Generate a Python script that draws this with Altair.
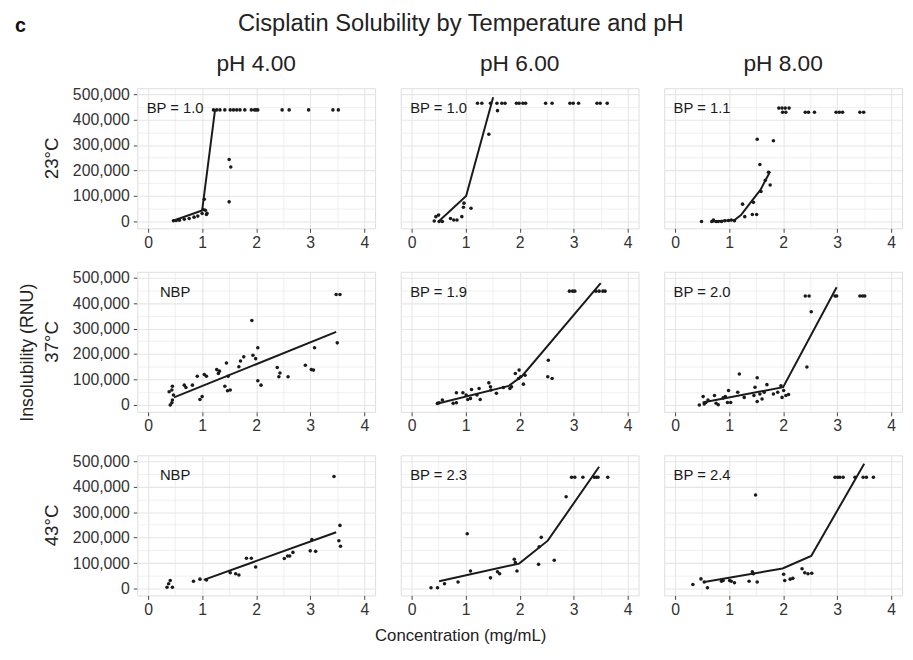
import altair as alt
import pandas as pd

FONT = "Liberation Sans"

temps = ["23°C", "37°C", "43°C"]
phs = ["pH 4.00", "pH 6.00", "pH 8.00"]
bp_labels = [["BP = 1.0", "BP = 1.0", "BP = 1.1"],
             ["NBP", "BP = 1.9", "BP = 2.0"],
             ["NBP", "BP = 2.3", "BP = 2.4"]]

# ---- 23°C ----
pts_23_4_x = [0.47, 0.52, 0.58, 0.67, 0.76, 0.85, 0.92, 1.0, 1.02, 1.04, 1.06, 1.08, 1.09,
              1.21, 1.27, 1.33, 1.42, 1.52, 1.58, 1.64, 1.70, 1.79, 1.91, 1.97, 2.0, 2.03,
              2.48, 2.61, 2.97, 3.42, 3.52, 1.5, 1.53, 1.5]
pts_23_4_y = [2500, 4000, 5000, 9000, 12000, 17000, 21000, 31000, 47000, 87000, 44000, 27000, 32000,
              438000, 438000, 438000, 438000, 438000, 438000, 438000, 438000, 438000, 438000, 438000,
              438000, 438000, 438000, 438000, 438000, 438000, 438000, 243000, 214000, 77000]
fit_23_4_x = [0.45, 1.0, 1.24]
fit_23_4_y = [2000, 43000, 440000]

pts_23_6_x = [0.42, 0.45, 0.50, 0.51, 0.57, 0.72, 0.78, 0.84, 0.93, 0.96, 0.97, 1.10, 1.43, 1.59,
              1.22, 1.30, 1.46, 1.58, 1.67, 1.73, 1.94, 1.99, 2.06, 2.11, 2.48, 2.60, 2.93, 2.99,
              3.09, 3.43, 3.49, 3.62]
pts_23_6_y = [2000, 19000, 25000, 0, 0, 12000, 6000, 6000, 19000, 56000, 72000, 52000, 342000, 435000,
              464000, 464000, 464000, 464000, 464000, 464000, 464000, 464000, 464000, 464000, 464000,
              464000, 464000, 464000, 464000, 464000, 464000, 464000]
fit_23_6_x = [0.5, 1.01, 1.51]
fit_23_6_y = [0, 100000, 488000]

pts_23_8_x = [0.49, 0.68, 0.71, 0.76, 0.80, 0.86, 0.92, 0.99, 1.04, 1.10, 1.25, 1.29, 1.43, 1.45,
              1.51, 1.52, 1.57, 1.59, 1.67, 1.73, 1.76, 1.82, 1.92, 1.98, 2.04, 2.11, 1.99, 2.05,
              2.41, 2.47, 2.58, 2.98, 3.04, 3.10, 3.42, 3.49]
pts_23_8_y = [0, 0, 6000, 0, 0, 0, 3000, 4000, 6000, 3000, 68000, 19000, 27000, 75000,
              27000, 323000, 224000, 118000, 162000, 193000, 143000, 317000, 445000, 445000, 445000,
              445000, 429000, 429000, 429000, 429000, 429000, 429000, 429000, 429000, 429000, 429000]
fit_23_8_x = [0.68, 1.10, 1.22, 1.40, 1.58, 1.76]
fit_23_8_y = [0, 6000, 25000, 75000, 124000, 196000]

# ---- 37°C ----
pts_37_4_x = [0.41, 0.44, 0.45, 0.39, 0.44, 0.45, 0.47, 0.67, 0.70, 0.82, 0.91, 0.96, 1.0, 1.04,
              1.08, 1.27, 1.30, 1.32, 1.42, 1.45, 1.47, 1.52, 1.48, 1.68, 1.71, 1.77, 1.92, 1.94,
              1.99, 2.03, 2.03, 2.09, 2.39, 2.44, 2.42, 2.59, 2.91, 3.02, 3.06, 3.08, 3.50, 3.48, 3.55]
pts_37_4_y = [0, 9000, 20000, 52000, 59000, 74000, 39000, 78000, 69000, 78000, 113000, 22000, 33000,
              120000, 113000, 139000, 124000, 133000, 74000, 165000, 56000, 59000, 113000, 150000,
              173000, 189000, 332000, 195000, 182000, 225000, 95000, 78000, 147000, 126000, 111000,
              111000, 156000, 139000, 137000, 225000, 244000, 434000, 434000]
fit_37_4_x = [0.48, 3.48]
fit_37_4_y = [30000, 287000]

pts_37_6_x = [0.48, 0.51, 0.57, 0.77, 0.83, 0.83, 0.95, 1.01, 1.04, 1.09, 1.11, 1.21, 1.27, 1.25,
              1.43, 1.46, 1.47, 1.57, 1.70, 1.82, 1.85, 1.92, 1.99, 1.98, 2.02, 2.07, 2.10, 2.53,
              2.52, 2.60, 2.92, 2.98, 3.02, 3.41, 3.47, 3.54, 3.58]
pts_37_6_y = [6500, 9000, 20000, 6500, 9000, 48000, 48000, 39000, 22000, 26000, 61000, 39000, 22000,
              65000, 87000, 72000, 59000, 46000, 69000, 65000, 72000, 124000, 137000, 104000, 111000,
              82000, 117000, 176000, 111000, 104000, 447000, 447000, 447000, 447000, 447000, 447000,
              447000]
fit_37_6_x = [0.45, 1.8, 2.05, 3.5]
fit_37_6_y = [4000, 75000, 115000, 478000]

pts_37_8_x = [0.45, 0.52, 0.54, 0.57, 0.61, 0.73, 0.76, 0.80, 0.89, 0.93, 0.97, 0.99, 1.03, 1.16,
              1.19, 1.28, 1.46, 1.48, 1.52, 1.52, 1.57, 1.61, 1.65, 1.70, 1.82, 1.90, 1.96, 1.98,
              2.01, 2.05, 2.10, 2.44, 2.52, 2.41, 2.48, 2.96, 2.99, 3.42, 3.47, 3.51]
pts_37_8_y = [0, 33000, 4000, 10000, 20000, 37000, 7000, 1000, 28000, 33000, 10000, 57000, 10000,
              50000, 122000, 30000, 37000, 70000, 107000, 14000, 43000, 24000, 50000, 80000, 43000,
              50000, 76000, 30000, 57000, 37000, 41000, 149000, 366000, 428000, 428000, 428000,
              428000, 428000, 428000, 428000]
fit_37_8_x = [0.51, 2.0, 2.99]
fit_37_8_y = [10000, 70000, 462000]

# ---- 43°C ----
pts_43_4_x = [0.35, 0.38, 0.41, 0.45, 0.84, 0.96, 1.08, 1.52, 1.62, 1.68, 1.82, 1.91, 1.99, 2.52,
              2.58, 2.62, 2.68, 3.0, 3.03, 3.10, 3.44, 3.55, 3.53, 3.56]
pts_43_4_y = [5000, 19000, 32000, 5000, 29000, 37000, 34000, 62000, 58000, 53000, 119000, 119000,
              85000, 118000, 128000, 128000, 142000, 148000, 192000, 146000, 440000, 248000, 188000,
              166000]
fit_43_4_x = [1.03, 3.48]
fit_43_4_y = [34000, 221000]

pts_43_6_x = [0.36, 0.48, 0.61, 0.86, 1.03, 1.09, 1.46, 1.59, 1.63, 1.90, 1.92, 1.95, 2.35, 2.36,
              2.40, 2.64, 2.86, 2.96, 3.02, 3.17, 3.38, 3.42, 3.45, 3.63]
pts_43_6_y = [3000, 3000, 19000, 26000, 215000, 69000, 42000, 66000, 58000, 115000, 102000, 69000,
              95000, 164000, 201000, 111000, 360000, 437000, 437000, 437000, 437000, 437000, 437000,
              437000]
fit_43_6_x = [0.51, 1.99, 2.52, 3.47]
fit_43_6_y = [29000, 98000, 188000, 478000]

pts_43_8_x = [0.33, 0.48, 0.54, 0.60, 0.86, 0.89, 1.01, 1.04, 1.10, 1.37, 1.43, 1.45, 1.49, 1.52,
              2.01, 2.03, 2.13, 2.18, 2.35, 2.40, 2.46, 2.53, 2.96, 3.01, 3.05, 3.11, 3.33, 3.48,
              3.54, 3.67]
pts_43_8_y = [16000, 38000, 26000, 3000, 29000, 32000, 32000, 29000, 23000, 29000, 66000, 58000,
              367000, 26000, 56000, 32000, 37000, 40000, 78000, 62000, 58000, 60000, 437000, 437000,
              437000, 437000, 437000, 437000, 437000, 437000]
fit_43_8_x = [0.54, 1.99, 2.52, 3.5]
fit_43_8_y = [26000, 79000, 128000, 490000]

panels = {
    (0, 0): (pts_23_4_x, pts_23_4_y, fit_23_4_x, fit_23_4_y),
    (0, 1): (pts_23_6_x, pts_23_6_y, fit_23_6_x, fit_23_6_y),
    (0, 2): (pts_23_8_x, pts_23_8_y, fit_23_8_x, fit_23_8_y),
    (1, 0): (pts_37_4_x, pts_37_4_y, fit_37_4_x, fit_37_4_y),
    (1, 1): (pts_37_6_x, pts_37_6_y, fit_37_6_x, fit_37_6_y),
    (1, 2): (pts_37_8_x, pts_37_8_y, fit_37_8_x, fit_37_8_y),
    (2, 0): (pts_43_4_x, pts_43_4_y, fit_43_4_x, fit_43_4_y),
    (2, 1): (pts_43_6_x, pts_43_6_y, fit_43_6_x, fit_43_6_y),
    (2, 2): (pts_43_8_x, pts_43_8_y, fit_43_8_x, fit_43_8_y),
}

records = []
for (ri, ci), (px, py, fx, fy) in panels.items():
    t, p = temps[ri], phs[ci]
    for a, b in zip(px, py):
        records.append(dict(temp=t, ph=p, kind="pt", x=a, y=b, ord=0, label=""))
    for k, (a, b) in enumerate(zip(fx, fy)):
        records.append(dict(temp=t, ph=p, kind="line", x=a, y=b, ord=k, label=""))
    records.append(dict(temp=t, ph=p, kind="bp", x=0.5, y=445000, ord=0, label=bp_labels[ri][ci]))
df = pd.DataFrame(records)

minor_x = "datum.value % 1 !== 0"
minor_y = "datum.value % 100000 !== 0"

x_axis = alt.Axis(
    values=[0, 0.5, 1, 1.5, 2, 2.5, 3, 3.5, 4],
    labelExpr="datum.value % 1 === 0 ? format(datum.value, 'd') : ''",
    tickOpacity={"condition": {"test": minor_x, "value": 0}, "value": 1},
    gridWidth={"condition": {"test": minor_x, "value": 0.6}, "value": 1.1},
    gridColor="#E6E6E6", domain=False, tickColor="#444", tickSize=4,
    labelFont=FONT, labelFontSize=16, labelColor="#333", labelPadding=2, title=None,
)
y_axis = alt.Axis(
    values=list(range(0, 500001, 50000)),
    labelExpr="datum.value % 100000 === 0 ? format(datum.value, ',d') : ''",
    tickOpacity={"condition": {"test": minor_y, "value": 0}, "value": 1},
    gridWidth={"condition": {"test": minor_y, "value": 0.6}, "value": 1.1},
    gridColor="#E6E6E6", domain=False, tickColor="#444", tickSize=4,
    labelFont=FONT, labelFontSize=16, labelColor="#333", labelPadding=4, title=None,
)

X = alt.X("x:Q", scale=alt.Scale(domain=[-0.2, 4.2], nice=False, zero=False), axis=x_axis)
Y = alt.Y("y:Q", scale=alt.Scale(domain=[-27000, 523000], nice=False, zero=False), axis=y_axis)

base = alt.Chart()
points = base.transform_filter("datum.kind == 'pt'").mark_circle(
    size=13, color="#1a1a1a", opacity=1).encode(x=X, y=Y)
lines = base.transform_filter("datum.kind == 'line'").mark_line(
    color="#1a1a1a", strokeWidth=2).encode(x=X, y=Y, order="ord:Q")
bp = base.transform_filter("datum.kind == 'bp'").mark_text(
    font=FONT, fontSize=15, color="#1a1a1a", align="center", baseline="middle").encode(
    x=X, y=Y, text="label:N")

layer = alt.layer(points, lines, bp).properties(width=241, height=142)

facet = layer.facet(
    data=df,
    row=alt.Row("temp:N", sort=temps, title="Insolubility (RNU)",
                header=alt.Header(labelAngle=-90, labelOrient="left", labelFont=FONT,
                                  labelFontSize=19, labelColor="#222", labelPadding=2,
                                  titleAngle=-90, titleOrient="left", titleFont=FONT,
                                  titleFontSize=18, titleFontWeight="normal", titleColor="#222",
                                  titlePadding=-22)),
    column=alt.Column("ph:N", sort=phs, title=None,
                      header=alt.Header(labelOrient="top", labelFont=FONT, labelFontSize=23,
                                        labelColor="#222", labelPadding=12)),
    spacing={"row": 44, "column": 26},
    bounds="flush",
).resolve_axis(x="independent").properties(
    title=alt.TitleParams("Cisplatin Solubility by Temperature and pH", font=FONT, fontSize=24,
                          fontWeight="normal", color="#222", anchor="middle", offset=18)
)

inner = alt.vconcat(facet).properties(
    title=alt.TitleParams("Concentration (mg/mL)", orient="bottom", font=FONT, fontSize=17,
                          fontWeight="normal", color="#222", anchor="middle", offset=11),
)

chart = alt.vconcat(inner).properties(
    title=alt.TitleParams("c", orient="top", anchor="start", font=FONT, fontSize=20,
                          fontWeight="bold", color="#111", offset=-24, dx=-4),
    padding={"left": 6, "top": 0, "right": 2, "bottom": 2},
).configure_view(stroke="#666", strokeWidth=1).configure(background="white")

chart.save("out.html", embed_options={"renderer": "svg", "actions": False})
